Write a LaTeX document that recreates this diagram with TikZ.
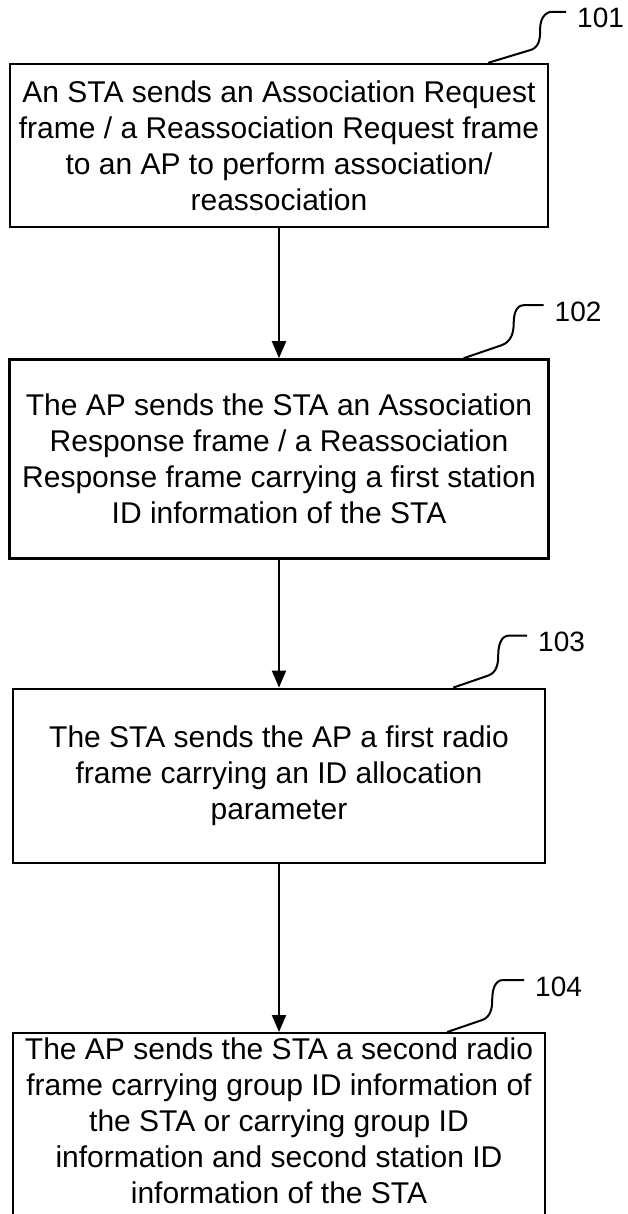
\documentclass[tikz,border=0pt]{standalone}
\usepackage{fontspec}
\setmainfont{Liberation Sans}
\usetikzlibrary{positioning,arrows.meta}

\begin{document}
\begin{tikzpicture}[x=0.5pt,y=0.5pt,
   stepbox/.style={draw, line width=1.2pt, align=center, inner sep=0pt,
      font=\fontsize{15}{18}\selectfont},
   steptext/.style={align=center, inner sep=0pt, font=\fontsize{15}{18}\selectfont},
   tag/.style={anchor=base west, inner sep=0pt, xshift=5pt, yshift=-8pt,
      font=\fontsize{14}{16}\selectfont},
   lead/.style={line width=1pt},
   flow/.style={line width=1pt, -{Triangle[length=8.5pt,width=7pt]}}]
   \useasboundingbox (0,0) rectangle (627,-1214);

   \node[stepbox, minimum width=269pt, minimum height=81.5pt] (s1) at (279,-145.5)
      {An STA sends an Association Request\\frame / a Reassociation Request frame\\to an AP to perform association/\\reassociation} ; %
   \node[stepbox, minimum width=269.5pt, minimum height=99.5pt, below=65pt of s1] (s2)
      {The AP sends the STA an Association\\Response frame / a Reassociation\\Response frame carrying a first station\\ID information of the STA} ; %
   \node[stepbox, minimum width=266pt, minimum height=87pt, below=64pt of s2] (s3)
      {The STA sends the AP a first radio\\frame carrying an ID allocation\\parameter} ; %
   \node[stepbox, minimum width=266pt, minimum height=95.5pt, below=84pt of s3] (s4) {} ; %
   \node[steptext] (t4) at ([yshift=4pt]s4.center)
      {The AP sends the STA a second radio\\frame carrying group ID information of\\the STA or carrying group ID\\information and second station ID\\information of the STA} ; %

   \draw[flow] (s1) -- (s2) ;
   \draw[flow] (s2) -- (s3) ;
   \draw[flow] (s3) -- (s4) ;

   % step numbers
   \draw[lead] (s1.north east) ++(-61,0) -- ++(43,13) to[out=20,in=-90] ++(9,22)
      to[out=90,in=180] ++(12,16) -- ++(14,0) node[tag] (n101) {101} ;
   \draw[lead] (s2.north east) ++(-86,0) -- ++(38,13) to[out=20,in=-90] ++(12,22)
      to[out=90,in=180] ++(10,18) -- ++(20,0) node[tag] (n102) {102} ;
   \draw[lead] (s3.north east) ++(-93,0) -- ++(35,12) to[out=20,in=-90] ++(10,20)
      to[out=90,in=180] ++(11,20) -- ++(18,0) node[tag] (n103) {103} ;
   \draw[lead] (s4.north east) ++(-99,0) -- ++(35,12) to[out=20,in=-90] ++(10,20)
      to[out=90,in=180] ++(11,20) -- ++(21,0) node[tag] (n104) {104} ;

\end{tikzpicture}
\end{document}
